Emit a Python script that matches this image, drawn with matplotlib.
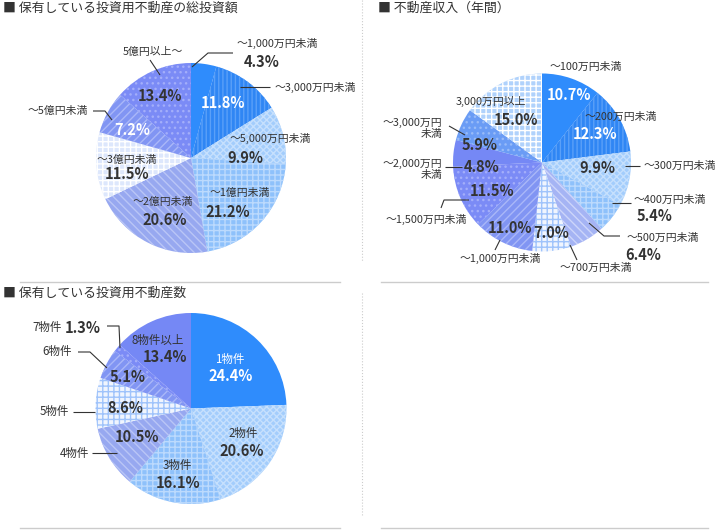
import matplotlib
matplotlib.use('Agg')
import matplotlib.pyplot as plt

plt.rcParams['font.family'] = ['Noto Sans CJK JP', 'DejaVu Sans']
plt.rcParams['hatch.linewidth'] = 1.0

# data
invest_title = '■ 保有している投資用不動産の総投資額'
invest_labels = ['～1,000万円未満', '～3,000万円未満', '～5,000万円未満', '～1億円未満',
                 '～2億円未満', '～3億円未満', '～5億円未満', '5億円以上～']
invest_values = [4.3, 11.8, 9.9, 21.2, 20.6, 11.5, 7.2, 13.4]

income_title = '■ 不動産収入（年間）'
income_labels = ['～100万円未満', '～200万円未満', '～300万円未満', '～400万円未満',
                 '～500万円未満', '～700万円未満', '～1,000万円未満', '～1,500万円未満',
                 '～2,000万円\n未満', '～3,000万円\n未満', '3,000万円以上']
income_values = [10.7, 12.3, 9.9, 5.4, 6.4, 7.0, 11.0, 11.5, 4.8, 5.9, 15.0]

count_title = '■ 保有している投資用不動産数'
count_labels = ['1物件', '2物件', '3物件', '4物件', '5物件', '6物件', '7物件', '8物件以上']
count_values = [24.4, 20.6, 16.1, 10.5, 8.6, 5.1, 1.3, 13.4]

# slice styles: (face, hatch, hatch colour)
SOLID = ('#2f8cfc', None, '#2f8cfc')
STRIPE = ('#2f86f4', '||||', '#5aa0f8')
FINE = ('#a3cdfc', 'xxxxx', '#c6e0fd')
DOTGRID = ('#8ec1fb', '+++', '#bcdafd')
DIAG = ('#97a8f0', '\\\\\\\\', '#b9c5f6')
PALE = ('#dde7fc', '+++', '#ffffff')
DIAG2 = ('#8195f3', '////', '#aab7f8')
DOTS = ('#7b8bf6', '...', '#a3aefa')
LIGHTDIAG = ('#a5b4f4', '\\\\\\\\', '#cdd5fa')
WHITEGRID = ('#f0f5fe', '+++', '#9fc3fb')
PURPLE = ('#7588f5', None, '#7588f5')
BLUEDOTS = ('#6a9cf5', '...', '#98bbf8')
LIGHTGRID = ('#b0d2fc', '+++', '#ffffff')

invest_styles = [SOLID, STRIPE, FINE, DOTGRID, DIAG, PALE, DIAG2, DOTS]
income_styles = [SOLID, STRIPE, FINE, DOTGRID, LIGHTDIAG, WHITEGRID, DIAG2, DOTS,
                 PURPLE, BLUEDOTS, LIGHTGRID]
count_styles = [SOLID, FINE, DOTGRID, DIAG, WHITEGRID, DIAG2, DOTS, PURPLE]

DARK = '#333333'

fig = plt.figure(figsize=(7.24, 5.30), dpi=100)
ax = fig.add_axes([0, 0, 1, 1])


def draw_pie(values, center, radius, styles):
    wedges, _ = ax.pie(values, center=center, radius=radius, startangle=-90,
                       counterclock=True, frame=True)
    for w, (face, hatch, hc) in zip(wedges, styles):
        w.set_facecolor(face)
        w.set_edgecolor(hc)
        w.set_linewidth(0)
        if hatch:
            w.set_hatch(hatch)


def put_texts(labels, values, label_pos, pct_pos, white_pct, white_lab=(),
              fs=7.8, pfs=10.5):
    for i, (lab, v) in enumerate(zip(labels, values)):
        lx, ly, ha = label_pos[i]
        lc = 'white' if i in white_lab else DARK
        ax.text(lx, ly, lab, ha=ha, va='center', fontsize=fs, color=lc,
                linespacing=1.1)
        px, py = pct_pos[i]
        pc = 'white' if i in white_pct else DARK
        ax.text(px, py, f'{v:.1f}%', ha='center', va='center', fontsize=pfs,
                fontweight='bold', color=pc)


def leaders(lines):
    for pts in lines:
        xs = [p[0] for p in pts]
        ys = [p[1] for p in pts]
        ax.plot(xs, ys, color=DARK, lw=0.8, solid_capstyle='butt')


# chart 1
draw_pie(invest_values, (191, 158), 95, invest_styles)
put_texts(invest_labels, invest_values,
          [(237, 43, 'left'), (275, 87, 'left'), (270, 138, 'center'),
           (240, 193, 'center'), (163, 202, 'center'), (127, 160, 'center'),
           (88, 111, 'right'), (153, 52, 'center')],
          [(262, 62), (223, 103), (245, 158), (228, 212), (165, 220), (127, 174),
           (132, 130), (160, 96)],
          white_pct={1, 6})
leaders([[(192, 67), (208, 53), (233, 53)],
         [(240, 87), (270, 87)],
         [(93, 111), (105, 111), (112, 120)],
         [(150, 60), (160, 75)]])

# chart 2
draw_pie(income_values, (542, 162.5), 89, income_styles)
put_texts(income_labels, income_values,
          [(586, 67, 'center'), (621, 117, 'center'), (644, 166, 'left'),
           (634, 200, 'left'), (627, 238, 'left'), (596, 268, 'center'),
           (500, 258, 'center'), (426, 219, 'center'), (442, 169.5, 'right'),
           (442, 128.5, 'right'), (491, 101, 'center')],
          [(569, 95), (595, 134), (597, 168), (655, 216), (643, 255), (551, 233),
           (510, 228), (492, 191), (482, 167), (480, 145), (516, 120)],
          white_pct={0, 1})
leaders([[(625, 166), (640, 166)],
         [(612, 203), (631, 203)],
         [(589, 223), (604, 236), (620, 236)],
         [(570, 245), (577, 260)],
         [(500, 240), (495, 250)],
         [(441, 208), (444, 200), (469, 200)],
         [(445, 167), (462, 167)],
         [(449, 126), (465, 135)]])

# chart 3
draw_pie(count_values, (191, 408.5), 95.5, count_styles)
put_texts(count_labels, count_values,
          [(230, 359, 'center'), (243, 433, 'center'), (177, 465, 'center'),
           (75, 453, 'center'), (54, 412, 'center'), (57, 352, 'center'),
           (47, 328, 'center'), (158, 340, 'center')],
          [(231, 376), (242, 451), (178, 483), (137, 437), (125, 408), (128, 377),
           (83, 328), (165, 357)],
          white_pct={0}, white_lab={0}, fs=8.3)
leaders([[(107, 326), (119, 326), (120, 348)],
         [(78, 352), (90, 352), (107, 368)],
         [(92, 453), (117, 453)],
         [(73, 412), (95, 412)]])

# titles
for x, y, t in [(3, 8, invest_title), (378, 8, income_title), (3, 293, count_title)]:
    ax.text(x, y, t, ha='left', va='center', fontsize=9.3, color=DARK)

# separators
GRID = '#cccccc'
for y in (282, 528):
    ax.plot([20, 340], [y, y], color=GRID, lw=1)
    ax.plot([381, 708], [y, y], color=GRID, lw=1)
ax.plot([362, 362], [0, 262], color=GRID, lw=0.8, ls=':')
ax.plot([362, 362], [293, 516], color=GRID, lw=0.8, ls=':')

ax.set_xlim(0, 724)
ax.set_ylim(530, 0)
ax.set_aspect('equal')
ax.axis('off')

fig.savefig('out.png', dpi=100)
